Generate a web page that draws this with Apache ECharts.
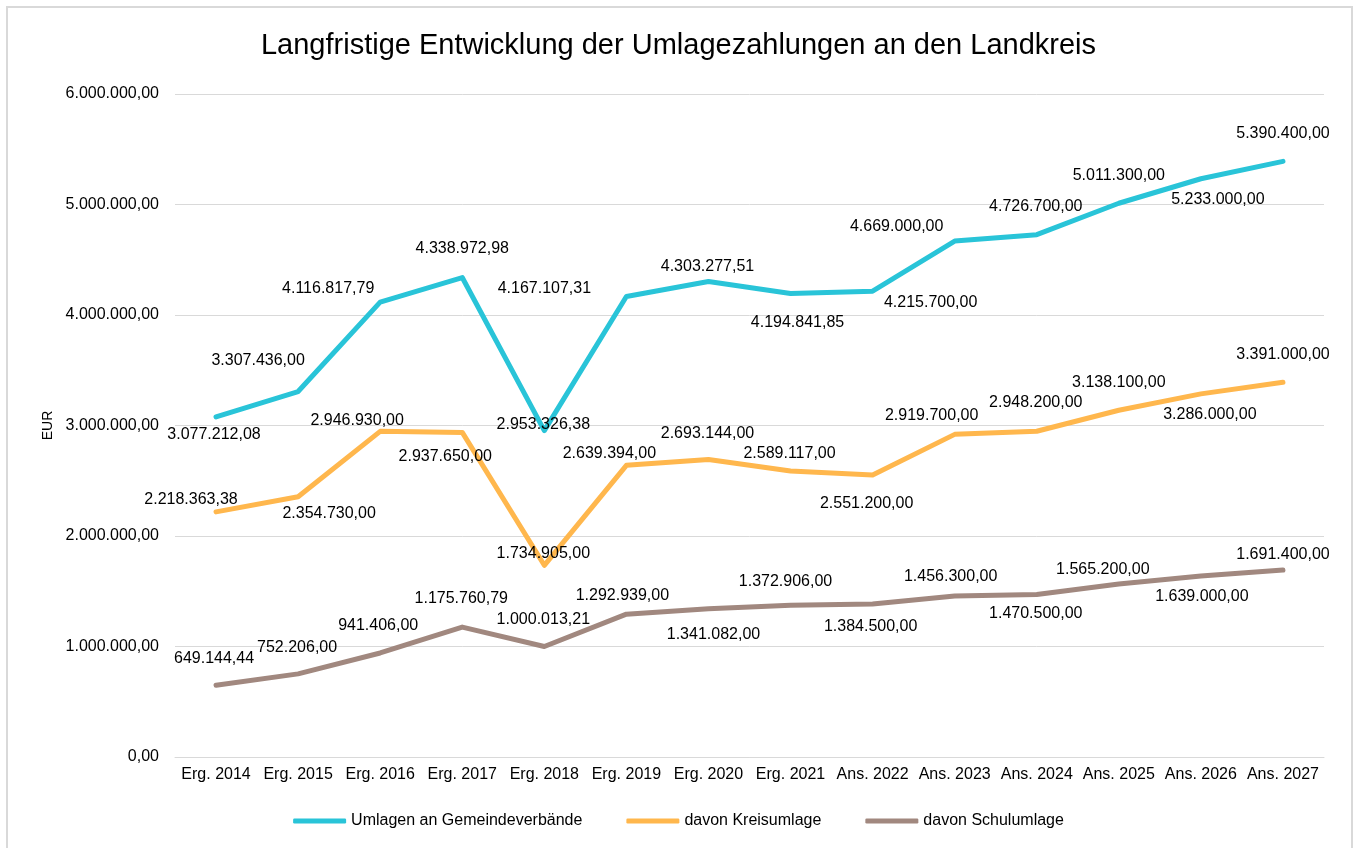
<!DOCTYPE html>
<html><head><meta charset="utf-8">
<script src="https://cdn.jsdelivr.net/npm/echarts@6/dist/echarts.min.js"></script>
<style>html,body{margin:0;padding:0;background:#fff}#c{width:1357px;height:848px}</style>
</head><body><div id="c"></div>
<script>
const titleText = 'Langfristige Entwicklung der Umlagezahlungen an den Landkreis';
const categories = ['Erg. 2014','Erg. 2015','Erg. 2016','Erg. 2017','Erg. 2018','Erg. 2019','Erg. 2020','Erg. 2021','Ans. 2022','Ans. 2023','Ans. 2024','Ans. 2025','Ans. 2026','Ans. 2027'];
const seriesNames = ['Umlagen an Gemeindeverbände','davon Kreisumlage','davon Schulumlage'];
const umlagen = [3077212.08, 3307436.00, 4116817.79, 4338972.98, 2953326.38, 4167107.31, 4303277.51, 4194841.85, 4215700.00, 4669000.00, 4726700.00, 5011300.00, 5233000.00, 5390400.00];
const kreisumlage = [2218363.38, 2354730.00, 2946930.00, 2937650.00, 1734905.00, 2639394.00, 2693144.00, 2589117.00, 2551200.00, 2919700.00, 2948200.00, 3138100.00, 3286000.00, 3391000.00];
const schulumlage = [649144.44, 752206.00, 941406.00, 1175760.79, 1000013.21, 1292939.00, 1341082.00, 1372906.00, 1384500.00, 1456300.00, 1470500.00, 1565200.00, 1639000.00, 1691400.00];
const yMin = 0, yMax = 6000000, yStep = 1000000;

// label nudges (style only): [dx, dy] from each point
const nudgeUmlagen = [[-2,18],[-40,-31],[-52,-13],[0,-29],[-1,-6],[-82,-8],[-1,-15],[7,29],[58,11],[-58,-14],[-1,-28],[0,-28],[17,21],[0,-28]];
const nudgeKreis = [[-25,-12],[31,17],[-23,-11],[-17,24],[-1,-12],[-17,-12],[-1,-26],[-1,-17],[-6,29],[-23,-19],[-1,-29],[0,-28],[9,21],[0,-28]];
const nudgeSchul = [[-2,-27],[-1,-26],[-2,-27],[-1,-28],[-1,-27],[-4,-19],[5,26],[-5,-24],[-2,23],[-4,-19],[-1,19],[-16,-14],[1,21],[0,-16]];
const colors = ['#29C4D8','#FFB74D','#A1887F'];

function fmt(v){
  const s = Math.abs(v).toFixed(2);
  let parts = s.split('.');
  const i = parts[0].replace(/\B(?=(\d{3})+(?!\d))/g, '.');
  return (v < 0 ? '-' : '') + i + ',' + parts[1];
}
const FF = '"Liberation Sans", Arial, sans-serif';
function mkSeries(name, vals, nudge, color){
  return {
    name: name, type: 'line', color: color,
    symbol: 'circle', symbolSize: 0.1, showSymbol: true,
    lineStyle: {width: 5, color: color, cap: 'round', join: 'round'},
    itemStyle: {color: color},
    label: {show: true, position: 'inside', fontSize: 16, color: '#000', fontFamily: FF,
            formatter: p => fmt(p.value)},
    emphasis: {disabled: true},
    animation: false,
    data: vals.map((v, i) => ({value: v, label: {offset: nudge[i]}}))
  };
}
const chart = echarts.init(document.getElementById('c'), null, {renderer: 'canvas'});
chart.setOption({
  backgroundColor: '#fff',
  textStyle: {fontFamily: FF},
  animation: false,
  graphic: [{type: 'rect', z: -1, silent: true,
    shape: {x: 7, y: 7, width: 1345, height: 860},
    style: {fill: 'none', stroke: '#D9D9D9', lineWidth: 2}}],
  title: {text: titleText, left: 'center', top: 31, padding: 0,
    textStyle: {fontSize: 29, fontWeight: 'normal', color: '#000', fontFamily: FF}},
  legend: {data: seriesNames, left: 'center', top: 808, itemGap: 44, itemWidth: 53, itemHeight: 5,
    icon: 'roundRect', textStyle: {fontSize: 16, color: '#000', fontFamily: FF}},
  grid: {left: 175, right: 33, top: 94, bottom: 91, containLabel: false},
  xAxis: {type: 'category', data: categories, boundaryGap: true,
    axisLine: {lineStyle: {color: '#D9D9D9', width: 1}},
    axisTick: {show: false},
    axisLabel: {fontSize: 16, color: '#000', margin: 10, interval: 0, fontFamily: FF}},
  yAxis: {type: 'value', min: yMin, max: yMax, interval: yStep,
    name: 'EUR', nameLocation: 'middle', nameRotate: 90, nameGap: 114,
    nameTextStyle: {fontSize: 14, color: '#000', fontFamily: FF},
    axisLine: {show: false}, axisTick: {show: false},
    axisLabel: {fontSize: 16, color: '#000', margin: 16, formatter: v => fmt(v), fontFamily: FF},
    splitLine: {lineStyle: {color: '#D9D9D9', width: 1}}},
  series: [
    mkSeries(seriesNames[0], umlagen, nudgeUmlagen, colors[0]),
    mkSeries(seriesNames[1], kreisumlage, nudgeKreis, colors[1]),
    mkSeries(seriesNames[2], schulumlage, nudgeSchul, colors[2])
  ]
});
</script></body></html>
